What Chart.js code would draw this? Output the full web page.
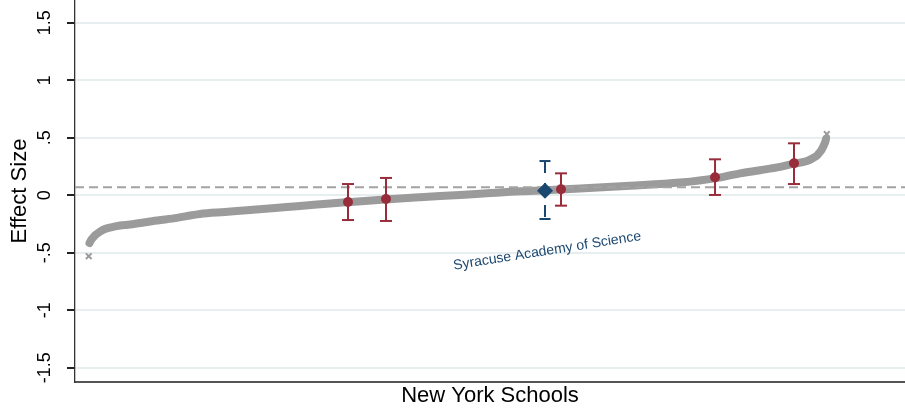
<!DOCTYPE html>
<html><head><meta charset="utf-8">
<script src="https://cdn.jsdelivr.net/npm/chart.js@4/dist/chart.umd.min.js"></script>
<style>html,body{margin:0;padding:0;background:#fff;overflow:hidden}#wrap{width:905px;height:409px}</style>
</head><body><div id="wrap"><canvas id="c" width="905" height="409"></canvas></div>
<script>
// ---- data ----
const curvePct = [0.20,0.41,0.68,1.08,1.63,2.30,2.98,4.34,5.69,8.40,11.79,15.18,18.56,21.95,25.34,28.73,32.79,35.50,40.24,44.99,49.05,53.12,58.54,61.92,66.67,73.44,80.22,84.96,88.35,91.06,93.77,95.80,97.43,98.24,98.78,99.19,99.46,99.73,99.93,100.0];
const curveVal = [-0.416,-0.390,-0.368,-0.342,-0.316,-0.294,-0.281,-0.263,-0.255,-0.229,-0.199,-0.163,-0.146,-0.129,-0.111,-0.094,-0.072,-0.059,-0.037,-0.018,-0.003,0.012,0.034,0.043,0.058,0.082,0.110,0.146,0.190,0.217,0.246,0.276,0.297,0.323,0.345,0.376,0.402,0.437,0.471,0.489];
const extremePct = [0.1, 100.1];
const extremeVal = [-0.53, 0.532];
const refLineVal = 0.069;
const redPct = [35.23, 40.38, 64.09, 84.96, 95.66];
const redEst = [-0.059, -0.033, 0.051, 0.156, 0.277];
const redLo  = [-0.216, -0.224, -0.091, 0.002, 0.097];
const redHi  = [0.097, 0.150, 0.190, 0.312, 0.451];
const bluePct = [61.92];
const blueEst = [0.039];
const blueLo  = [-0.207];
const blueHi  = [0.297];
const yTickValues = [-1.5, -1, -0.5, 0, 0.5, 1, 1.5];
const yTickLabels = ['-1.5', '-1', '-.5', '0', '.5', '1', '1.5'];
const annotText = 'Syracuse Academy of Science';
const annotVal = -0.485;
const xTitle = 'New York Schools';
const yTitle = 'Effect Size';

// ---- styles ----
const FONT = '"Liberation Sans", Arial, Helvetica, sans-serif';
const GRAY = '#9b9b9b';
const RED = '#982c3a';
const BLUE = '#1a476f';
Chart.defaults.font.family = FONT;

const X_MIN = -1.762, X_MAX = 110.70, Y_MIN = -1.624, Y_MAX = 1.697;

const layers = []; // bottom to top
layers.push({
  data: curvePct.map((p, i) => ({x: p, y: curveVal[i]})),
  showLine: true, borderColor: GRAY, borderWidth: 8, pointRadius: 0,
  cubicInterpolationMode: 'monotone', borderCapStyle: 'round', borderJoinStyle: 'round'
});
layers.push({
  data: extremePct.map((p, i) => ({x: p, y: extremeVal[i]})),
  showLine: false, pointStyle: 'crossRot', pointRadius: 4, borderColor: GRAY,
  pointBorderWidth: 2
});
layers.push({
  data: [{x: X_MIN, y: refLineVal}, {x: X_MAX, y: refLineVal}],
  showLine: true, borderColor: '#a3a3a3', borderWidth: 2, borderDash: [9, 5], pointRadius: 0
});
redPct.forEach((p, i) => {
  layers.push({
    data: [{x: p, y: redLo[i]}, {x: p, y: redHi[i]}],
    showLine: true, borderColor: RED, borderWidth: 2,
    pointStyle: 'line', pointRadius: 6, pointBorderWidth: 2, pointBorderColor: RED
  });
});
layers.push({
  data: redPct.map((p, i) => ({x: p, y: redEst[i]})),
  showLine: false, pointStyle: 'circle', pointRadius: 5, backgroundColor: RED,
  borderColor: RED, pointBorderWidth: 0
});
bluePct.forEach((p, i) => {
  layers.push({
    data: [{x: p, y: blueHi[i]}, {x: p, y: blueLo[i]}],
    showLine: true, borderColor: BLUE, borderWidth: 2, borderDash: [12, 10],
    pointStyle: 'line', pointRadius: 5.5, pointBorderWidth: 2, pointBorderColor: BLUE
  });
});
layers.push({
  data: bluePct.map((p, i) => ({x: p, y: blueEst[i]})),
  showLine: false, pointStyle: 'rectRot', pointRadius: 8, backgroundColor: BLUE,
  borderColor: BLUE, pointBorderWidth: 0
});
layers.forEach((d, i) => { d.order = layers.length - i; d.clip = false; });

const annotPlugin = {
  id: 'annot',
  afterDatasetsDraw(chart) {
    const {ctx, scales: {x, y}} = chart;
    const px = x.getPixelForValue(bluePct[0] + 0.3);
    const py = y.getPixelForValue(annotVal);
    ctx.save();
    ctx.translate(px, py);
    ctx.rotate(-9 * Math.PI / 180);
    ctx.font = '14px ' + FONT;
    ctx.fillStyle = BLUE;
    ctx.textAlign = 'center';
    ctx.textBaseline = 'middle';
    ctx.fillText(annotText, 0, 0);
    ctx.restore();
  }
};

new Chart(document.getElementById('c'), {
  type: 'scatter',
  data: {datasets: layers},
  plugins: [annotPlugin],
  options: {
    responsive: false, animation: false, devicePixelRatio: 1,
    layout: {padding: 0, autoPadding: false},
    plugins: {legend: {display: false}, tooltip: {enabled: false}},
    scales: {
      x: {
        type: 'linear', min: X_MIN, max: X_MAX,
        grid: {display: false, drawTicks: false},
        border: {display: true, color: '#555', width: 2},
        ticks: {display: false},
        title: {display: true, text: xTitle, color: '#000',
                font: {size: 22, lineHeight: 1.2}, padding: {top: 0, bottom: 0}},
        afterFit(s) { s.height = 27; s.paddingLeft = 0; s.paddingRight = 0; }
      },
      y: {
        type: 'linear', min: Y_MIN, max: Y_MAX,
        afterBuildTicks(s) { s.ticks = yTickValues.map(v => ({value: v})); },
        grid: {color: '#e6eef0', lineWidth: 2, tickColor: '#222', tickLength: 8, drawTicks: true},
        border: {display: true, color: '#333', width: 1.3},
        ticks: {
          minRotation: 90, maxRotation: 90, crossAlign: 'center', padding: 6,
          color: '#000', font: {size: 18, lineHeight: 1.2},
          callback: (v) => { const k = yTickValues.indexOf(v); return k >= 0 ? yTickLabels[k] : ''; }
        },
        title: {display: true, text: yTitle, color: '#000',
                font: {size: 22, lineHeight: 1.2}, padding: {top: 7, bottom: 0}},
        afterFit(s) { s.width = 75; s.paddingTop = 0; s.paddingBottom = 0; }
      }
    }
  }
});
</script>
</body></html>
